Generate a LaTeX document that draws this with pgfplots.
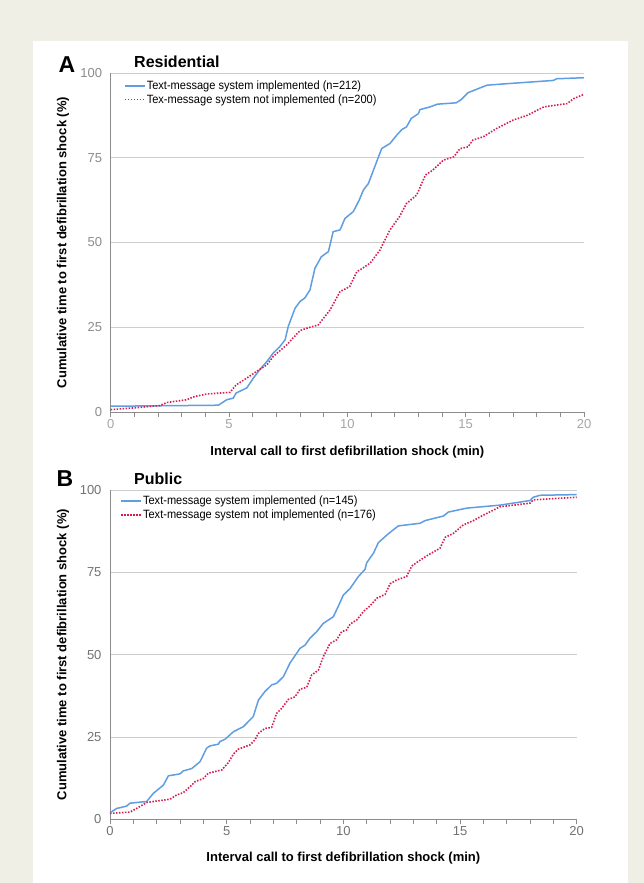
\documentclass[border=0pt]{standalone}
\usepackage{fontspec}
\setmainfont{Liberation Sans}
\usepackage{pgfplots}
\pgfplotsset{compat=1.18}
\definecolor{bg}{RGB}{239,239,230}
\definecolor{cblue}{RGB}{96,158,228}
\definecolor{cred}{RGB}{214,28,78}
\definecolor{gridc}{RGB}{205,205,205}
\definecolor{axc}{RGB}{140,140,140}
\newcommand{\legtxt}[1]{\scalebox{0.92}[1]{#1}}
\pgfplotsset{
  myaxis/.style={
    scale only axis,
    anchor=south west,
    xmin=0, xmax=20, ymin=0, ymax=100,
    xtick={0,5,10,15,20},
    minor xtick={1,2,3,4,6,7,8,9,11,12,13,14,16,17,18,19},
    ytick={0,25,50,75,100},
    axis x line=bottom, axis y line=left,
    axis line style={-, draw=axc, line width=0.8pt},
    tick align=outside,
    xtick style={draw=axc, line width=0.8pt},
    minor tick length=5pt, major tick length=5pt,
    ytick style={draw=none},
    ymajorgrids, grid style={gridc, line width=0.8pt},
    /pgf/number format/assume math mode=true,
    tick label style={font=\fontsize{13}{15}\selectfont},
    xticklabel style={yshift=1pt},
    label style={font=\bfseries\fontsize{13}{15}\selectfont},
    legend style={draw=none, fill=none, inner sep=0pt, font=\fontsize{12}{14}\selectfont,
      nodes={inner sep=1pt}, row sep=1.5pt},
    legend cell align=left,
    clip=false,
  },
  blueline/.style={cblue, line width=1.5pt},
  redline/.style={cred, line width=1.6pt, dash pattern=on 1.5pt off 1.5pt},
}
\begin{document}
\begin{tikzpicture}[x=1pt,y=1pt]
\useasboundingbox (0,0) rectangle (644,883);
\fill[bg] (0,0) rectangle (644,883);
\fill[white] (33,0) rectangle (628,842);
% Panel A
\begin{axis}[myaxis,
  at={(110.7pt,471pt)}, width=473.3pt, height=339pt,
  xticklabel style={text=gray!70},
  yticklabel style={text=gray!90},
  xlabel={Interval call to first defibrillation shock (min)},
  ylabel={Cumulative time to first defibrillation shock (\%)},
  xlabel style={at={(axis description cs:0.5,-0.118)}, anchor=center},
  ylabel style={at={(axis description cs:-0.1008,0.5)}, anchor=center},
  legend style={at={(axis description cs:0.028,0.9805)}, anchor=north west},
]
\addplot[blueline, legend image code/.code={\draw[cblue, line width=1.6pt] (0pt,0pt) -- (20pt,0pt);}] coordinates {
(0,1.7) (4.55,2.0) (4.9,3.6) (5.18,4.1) (5.3,5.6) (5.75,7.1) (6.03,10) (6.3,12.5)
(6.6,14.9) (6.87,17.4) (7.15,19.3) (7.37,21.3) (7.5,25.2) (7.79,30.6) (8.0,32.6)
(8.2,33.6) (8.42,36) (8.63,42.4) (8.9,45.8) (9.2,47.3) (9.4,53.2) (9.69,53.7)
(9.9,57.1) (10.25,59.1) (10.5,62.5) (10.68,65.5) (10.89,67.4) (11.1,71.3)
(11.45,77.7) (11.8,79.2) (12.08,81.6) (12.3,83.3) (12.5,84.1) (12.7,86.6)
(13.0,88) (13.07,89.2) (13.5,90) (13.8,90.8) (14.6,91.2) (14.8,92.1) (15.1,94.2)
(15.9,96.4) (16.45,96.7) (18.7,97.8) (18.85,98.3) (20,98.6)};
\addlegendentry{\legtxt{Text-message system implemented (n=212)}}
\addplot[redline, legend image code/.code={\draw[cred, line width=1.6pt, dash pattern=on 1.5pt off 1.5pt] (0pt,0pt) -- (20pt,0pt);}] coordinates {
(0,0.7) (0.96,1.2) (2.08,1.9) (2.37,2.8) (3.2,3.6) (3.56,4.6) (4.06,5.3) (5.04,5.8)
(5.3,8.0) (5.75,10) (6.17,12) (6.6,13.9) (6.87,16.4) (7.44,19.8) (7.7,21.8)
(8.0,24) (8.28,24.7) (8.77,25.7) (9.27,30.1) (9.69,35.5) (10.1,37) (10.4,41.4)
(10.6,42.2) (10.96,43.9) (11.38,47.8) (11.8,53.7) (12.2,57.6) (12.5,61.5)
(12.93,64) (13.3,69.9) (13.6,71.3) (14.06,74.3) (14.5,75.3) (14.76,77.7)
(15.1,78.2) (15.3,80.2) (15.75,81.2) (16.3,83.6) (17.0,86.1) (17.6,87.5)
(18.3,90) (19.3,91) (19.55,92.4) (20,93.7)};
\addlegendentry{\legtxt{Tex-message system not implemented (n=200)}}
\end{axis}
% Panel B
\begin{axis}[myaxis,
  at={(110pt,63.7pt)}, width=466.7pt, height=329.3pt,
  xticklabel style={text=gray!90!black},
  yticklabel style={text=gray!90!black},
  xlabel={Interval call to first defibrillation shock (min)},
  ylabel={Cumulative time to first defibrillation shock (\%)},
  xlabel style={at={(axis description cs:0.5,-0.1175)}, anchor=center},
  ylabel style={at={(axis description cs:-0.1007,0.5)}, anchor=center},
  legend style={at={(axis description cs:0.022,0.985)}, anchor=north west},
]
\addplot[blueline, legend image code/.code={\draw[cblue, line width=1.6pt] (0pt,0pt) -- (20pt,0pt);}] coordinates {
(0,2.0) (0.29,3.3) (0.71,4.0) (0.86,4.9) (1.57,5.4) (1.86,7.9) (2.29,10.4) (2.5,13.2)
(3.0,13.8) (3.14,14.7) (3.5,15.4) (3.86,17.5) (4.14,21.6) (4.29,22.3) (4.64,22.8)
(4.71,23.6) (4.93,24.3) (5.29,26.6) (5.71,28.1) (6.14,31.2) (6.36,36.2) (6.64,38.8)
(6.93,40.8) (7.14,41.3) (7.43,43.3) (7.71,47.4) (8.14,51.9) (8.36,52.9) (8.57,55.0)
(8.86,57.0) (9.14,59.5) (9.57,61.5) (9.79,64.8) (10.0,68.1) (10.29,70.1)
(10.64,73.7) (10.93,75.9) (11.0,77.9) (11.29,80.8) (11.5,84.0) (11.86,86.3)
(12.14,87.9) (12.36,89.1) (13.29,89.9) (13.5,90.7) (14.29,92.1) (14.5,93.3)
(15.29,94.5) (16.71,95.4) (18.0,96.8) (18.14,97.8) (18.43,98.4) (20,98.6)};
\addlegendentry{\legtxt{Text-message system implemented (n=145)}}
\addplot[redline, legend image code/.code={\draw[cred, line width=1.6pt, dash pattern=on 1.5pt off 1.5pt] (0pt,0pt) -- (20pt,0pt);}] coordinates {
(0,1.8) (0.86,2.2) (1.14,3.3) (1.57,5.1) (1.86,5.4) (2.57,6.1) (2.86,7.4) (3.14,8.1)
(3.43,9.9) (3.64,11.4) (4.0,12.4) (4.21,14.0) (4.79,15.0) (5.07,17.2) (5.29,19.8)
(5.5,21.3) (6.0,22.6) (6.21,24.1) (6.36,26.1) (6.64,27.6) (6.93,27.9) (7.14,32.2)
(7.36,33.7) (7.64,36.4) (7.93,37.2) (8.14,39.5) (8.43,40.1) (8.64,43.8) (8.93,45.3)
(9.14,49.4) (9.43,53.4) (9.71,54.5) (9.93,57.0) (10.14,57.5) (10.29,59.3)
(10.57,60.5) (10.86,63.1) (11.14,64.8) (11.43,67.1) (11.79,68.3) (12.0,71.5)
(12.29,72.7) (12.71,73.7) (12.93,76.9) (13.29,78.7) (13.64,80.3) (14.14,82.3)
(14.36,85.6) (14.71,86.8) (15.14,89.4) (15.57,90.7) (15.93,92.1) (16.29,93.4)
(16.71,94.9) (18.0,96.0) (18.14,97.0) (20,97.8)};
\addlegendentry{\legtxt{Text-message system not implemented (n=176)}}
\end{axis}
% panel letters and titles
\node[anchor=center, font=\bfseries\fontsize{23}{26}\selectfont] at (67,818) {A};
\node[anchor=base west, font=\bfseries\fontsize{16}{18}\selectfont, inner sep=0pt] at (134,815) {Residential};
\node[anchor=center, font=\bfseries\fontsize{23}{26}\selectfont] at (65,404) {B};
\node[anchor=base west, font=\bfseries\fontsize{16}{18}\selectfont, inner sep=0pt] at (134,398) {Public};
\end{tikzpicture}
\end{document}
